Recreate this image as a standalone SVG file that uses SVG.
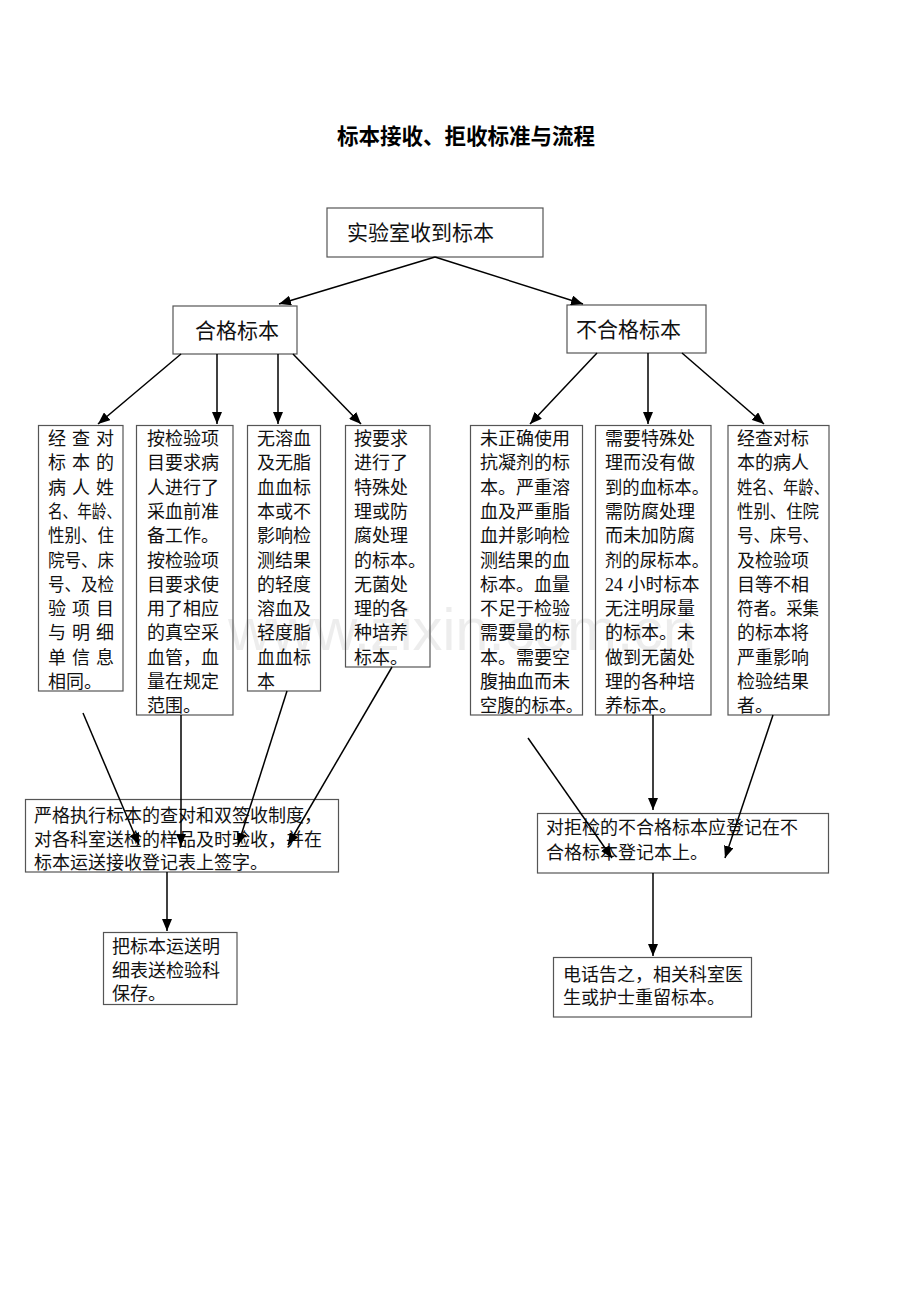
<svg xmlns="http://www.w3.org/2000/svg" width="920" height="1302" viewBox="0 0 920 1302">
<style>
.box{fill:none;stroke:#555;stroke-width:1.2}
.t{font-family:"Liberation Serif","Noto Sans CJK SC",serif;font-size:18px;fill:#111}
.h{font-family:"Noto Sans CJK SC",sans-serif;font-size:21px;fill:#111}
.title{font-family:"Noto Sans CJK SC",sans-serif;font-size:21.5px;font-weight:bold;fill:#000}
.c line{stroke:#000;stroke-width:1.5;marker-end:url(#ah)}
.wm{font-family:"Liberation Sans",sans-serif;font-size:60px;fill:#000;fill-opacity:0.07}
</style>
<defs>
<marker id="ah" markerUnits="userSpaceOnUse" markerWidth="13" markerHeight="10" refX="12" refY="5" orient="auto">
<path d="M0,0 L12,5 L0,10 z" fill="#000"/>
</marker>
</defs>
<rect width="920" height="1302" fill="#fff"/>
<text class="wm" x="228" y="650" textLength="468" lengthAdjust="spacing">www.zixin.com.cn</text>
<text class="title" x="466" y="144" text-anchor="middle">标本接收、拒收标准与流程</text>

<g id="n-start"><rect class="box" x="327" y="208" width="216" height="49"/><text class="h" x="347" y="240">实验室收到标本</text></g>
<g id="n-ok"><rect class="box" x="173" y="306" width="124" height="48"/><text class="h" x="195" y="338">合格标本</text></g>
<g id="n-bad"><rect class="box" x="567" y="305" width="139" height="48"/><text class="h" x="576" y="337">不合格标本</text></g>

<g id="n-a"><rect class="box" x="38.5" y="425.5" width="84.5" height="265.5"/>
<text class="t" x="48" y="445" textLength="66" lengthAdjust="spacing">经查对</text>
<text class="t" x="48" y="469.3" textLength="66" lengthAdjust="spacing">标本的</text>
<text class="t" x="48" y="493.6" textLength="66" lengthAdjust="spacing">病人姓</text>
<text class="t" x="48" y="517.9" textLength="73" lengthAdjust="spacingAndGlyphs">名、年龄、</text>
<text class="t" x="48" y="542.2" textLength="66" lengthAdjust="spacingAndGlyphs">性别、住</text>
<text class="t" x="48" y="566.5" textLength="66" lengthAdjust="spacingAndGlyphs">院号、床</text>
<text class="t" x="48" y="590.8" textLength="66" lengthAdjust="spacingAndGlyphs">号、及检</text>
<text class="t" x="48" y="615.1" textLength="66" lengthAdjust="spacing">验项目</text>
<text class="t" x="48" y="639.4" textLength="66" lengthAdjust="spacing">与明细</text>
<text class="t" x="48" y="663.7" textLength="66" lengthAdjust="spacing">单信息</text>
<text class="t" x="48" y="688">相同。</text>
</g>

<g id="n-b"><rect class="box" x="136.5" y="425.5" width="96.5" height="289.5"/>
<text class="t" x="147" y="445">按检验项</text>
<text class="t" x="147" y="469.3">目要求病</text>
<text class="t" x="147" y="493.6">人进行了</text>
<text class="t" x="147" y="517.9">采血前准</text>
<text class="t" x="147" y="542.2">备工作。</text>
<text class="t" x="147" y="566.5">按检验项</text>
<text class="t" x="147" y="590.8">目要求使</text>
<text class="t" x="147" y="615.1">用了相应</text>
<text class="t" x="147" y="639.4">的真空采</text>
<text class="t" x="147" y="663.7">血管，血</text>
<text class="t" x="147" y="688">量在规定</text>
<text class="t" x="147" y="712.3">范围。</text>
</g>

<g id="n-c"><rect class="box" x="247.5" y="425.5" width="73" height="265.5"/>
<text class="t" x="257" y="445">无溶血</text>
<text class="t" x="257" y="469.3">及无脂</text>
<text class="t" x="257" y="493.6">血血标</text>
<text class="t" x="257" y="517.9">本或不</text>
<text class="t" x="257" y="542.2">影响检</text>
<text class="t" x="257" y="566.5">测结果</text>
<text class="t" x="257" y="590.8">的轻度</text>
<text class="t" x="257" y="615.1">溶血及</text>
<text class="t" x="257" y="639.4">轻度脂</text>
<text class="t" x="257" y="663.7">血血标</text>
<text class="t" x="257" y="688">本</text>
</g>

<g id="n-d"><rect class="box" x="345.5" y="425.5" width="84.5" height="241.5"/>
<text class="t" x="354" y="445">按要求</text>
<text class="t" x="354" y="469.3">进行了</text>
<text class="t" x="354" y="493.6">特殊处</text>
<text class="t" x="354" y="517.9">理或防</text>
<text class="t" x="354" y="542.2">腐处理</text>
<text class="t" x="354" y="566.5">的标本。</text>
<text class="t" x="354" y="590.8">无菌处</text>
<text class="t" x="354" y="615.1">理的各</text>
<text class="t" x="354" y="639.4">种培养</text>
<text class="t" x="354" y="663.7">标本。</text>
</g>

<g id="n-e"><rect class="box" x="470.5" y="425.5" width="112" height="289.5"/>
<text class="t" x="480" y="445">未正确使用</text>
<text class="t" x="480" y="469.3">抗凝剂的标</text>
<text class="t" x="480" y="493.6">本。严重溶</text>
<text class="t" x="480" y="517.9">血及严重脂</text>
<text class="t" x="480" y="542.2">血并影响检</text>
<text class="t" x="480" y="566.5">测结果的血</text>
<text class="t" x="480" y="590.8">标本。血量</text>
<text class="t" x="480" y="615.1">不足于检验</text>
<text class="t" x="480" y="639.4">需要量的标</text>
<text class="t" x="480" y="663.7">本。需要空</text>
<text class="t" x="480" y="688">腹抽血而未</text>
<text class="t" x="480" y="712.3" textLength="103" lengthAdjust="spacingAndGlyphs">空腹的标本。</text>
</g>

<g id="n-f"><rect class="box" x="595.5" y="425.5" width="115.5" height="289.5"/>
<text class="t" x="605" y="445">需要特殊处</text>
<text class="t" x="605" y="469.3">理而没有做</text>
<text class="t" x="605" y="493.6" textLength="104" lengthAdjust="spacingAndGlyphs">到的血标本。</text>
<text class="t" x="605" y="517.9">需防腐处理</text>
<text class="t" x="605" y="542.2">而未加防腐</text>
<text class="t" x="605" y="566.5" textLength="104" lengthAdjust="spacingAndGlyphs">剂的尿标本。</text>
<text class="t" x="605" y="590.8">24 小时标本</text>
<text class="t" x="605" y="615.1">无注明尿量</text>
<text class="t" x="605" y="639.4">的标本。未</text>
<text class="t" x="605" y="663.7">做到无菌处</text>
<text class="t" x="605" y="688">理的各种培</text>
<text class="t" x="605" y="712.3">养标本。</text>
</g>

<g id="n-g"><rect class="box" x="728" y="425.5" width="101" height="289.5"/>
<text class="t" x="737" y="445">经查对标</text>
<text class="t" x="737" y="469.3">本的病人</text>
<text class="t" x="737" y="493.6" textLength="92" lengthAdjust="spacingAndGlyphs">姓名、年龄、</text>
<text class="t" x="737" y="517.9" textLength="82" lengthAdjust="spacingAndGlyphs">性别、住院</text>
<text class="t" x="737" y="542.2" textLength="82" lengthAdjust="spacingAndGlyphs">号、床号、</text>
<text class="t" x="737" y="566.5">及检验项</text>
<text class="t" x="737" y="590.8">目等不相</text>
<text class="t" x="737" y="615.1" textLength="82" lengthAdjust="spacingAndGlyphs">符者。采集</text>
<text class="t" x="737" y="639.4">的标本将</text>
<text class="t" x="737" y="663.7">严重影响</text>
<text class="t" x="737" y="688">检验结果</text>
<text class="t" x="737" y="712.3">者。</text>
</g>

<g id="n-h"><rect class="box" x="25.5" y="799.5" width="313" height="72.5"/>
<text class="t" x="34" y="822">严格执行标本的查对和双签收制度，</text>
<text class="t" x="34" y="845.5">对各科室送检的样品及时验收，并在</text>
<text class="t" x="34" y="869">标本运送接收登记表上签字。</text>
</g>

<g id="n-i"><rect class="box" x="103.5" y="932.5" width="133.5" height="72"/>
<text class="t" x="112" y="953">把标本运送明</text>
<text class="t" x="112" y="976.5">细表送检验科</text>
<text class="t" x="112" y="1000">保存。</text>
</g>

<g id="n-j"><rect class="box" x="537.5" y="813.5" width="291" height="59.5"/>
<text class="t" x="546" y="834">对拒检的不合格标本应登记在不</text>
<text class="t" x="546" y="859">合格标本登记本上。</text>
</g>

<g id="n-k"><rect class="box" x="553.5" y="957.5" width="198" height="59.5"/>
<text class="t" x="563" y="981">电话告之，相关科室医</text>
<text class="t" x="563" y="1004">生或护士重留标本。</text>
</g>

<g id="connectors" class="c">
<line x1="435" y1="257" x2="279" y2="304"/>
<line x1="435" y1="257" x2="583" y2="304"/>
<line x1="181" y1="354" x2="98" y2="424"/>
<line x1="217" y1="354" x2="217" y2="424"/>
<line x1="278" y1="354" x2="278" y2="424"/>
<line x1="293" y1="354" x2="361" y2="424"/>
<line x1="597" y1="353" x2="530" y2="424"/>
<line x1="648" y1="353" x2="648" y2="424"/>
<line x1="682" y1="353" x2="764" y2="424"/>
<line x1="83" y1="713" x2="139" y2="845"/>
<line x1="181" y1="715" x2="181" y2="846"/>
<line x1="287" y1="691" x2="238" y2="845"/>
<line x1="392" y1="667" x2="288" y2="845"/>
<line x1="167" y1="872" x2="167" y2="931"/>
<line x1="528" y1="738" x2="612" y2="858"/>
<line x1="653" y1="715" x2="653" y2="810"/>
<line x1="773" y1="715" x2="725" y2="858"/>
<line x1="653" y1="873" x2="653" y2="956"/>
</g>
</svg>
